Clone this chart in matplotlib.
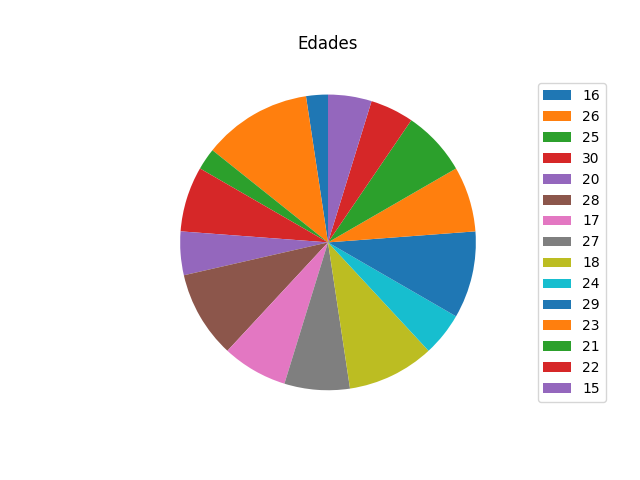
import matplotlib
matplotlib.use("Agg")
import matplotlib.pyplot as plt

# ages and how many people have each one
edades = ['16', '26', '25', '30', '20', '28', '17', '27', '18', '24', '29', '23', '21', '22', '15']
conteo = [1, 5, 1, 3, 2, 4, 3, 3, 4, 2, 4, 3, 3, 2, 2]

fig, ax = plt.subplots(figsize=(6.4, 4.8), dpi=100)
ax.pie(conteo, startangle=90)
ax.set_title('Edades')
ax.legend(edades, loc='center right', bbox_to_anchor=(1.27, 0.5))

plt.savefig('out.png')
